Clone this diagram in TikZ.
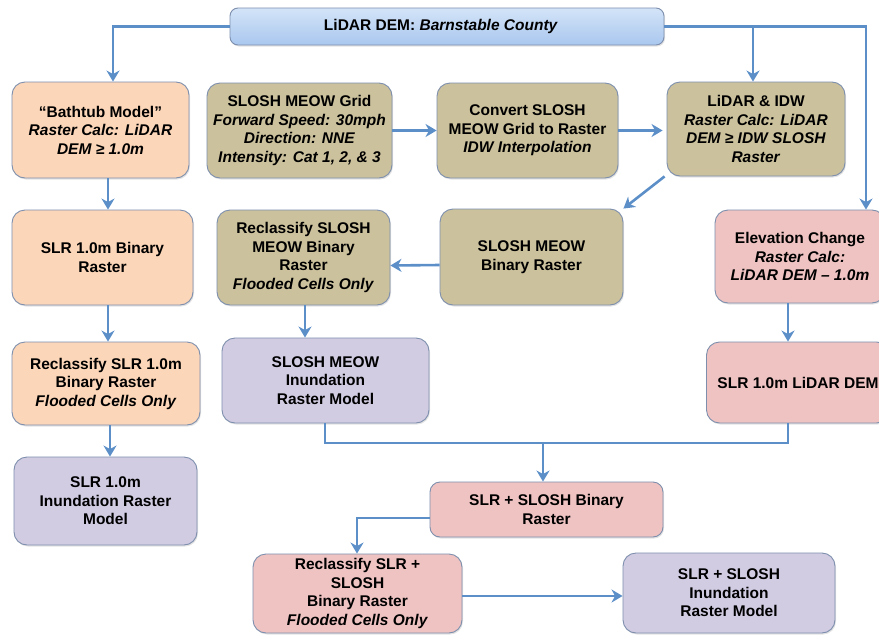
\documentclass[tikz,border=0pt]{standalone}
\usepackage{fontspec}
\setmainfont{Liberation Sans}
\usetikzlibrary{arrows.meta,shadows}

\definecolor{flowblue}{HTML}{5C8FC8}
\definecolor{edgegray}{HTML}{7D8FAD}
\definecolor{skytop}{HTML}{D3E4F8}
\definecolor{skybot}{HTML}{A9C7EE}
\definecolor{peach}{HTML}{FCD6B8}
\definecolor{khaki}{HTML}{CBC19C}
\definecolor{lilac}{HTML}{D2CCE3}
\definecolor{rose}{HTML}{EFC3C2}

\tikzset{
  box/.style={draw=edgegray, line width=0.9pt, rounded corners=13pt, align=center,
    inner sep=2pt, font=\fontsize{15.5}{18.5}\selectfont\bfseries,
    drop shadow={shadow xshift=1pt, shadow yshift=-1.5pt, opacity=0.22}},
  peachbox/.style={box, fill=peach},
  khakibox/.style={box, fill=khaki},
  lilacbox/.style={box, fill=lilac},
  rosebox/.style={box, fill=rose},
  headbox/.style={box, rounded corners=8pt, top color=skytop, bottom color=skybot},
  flow/.style={draw=flowblue, line width=2.6pt},
  arr/.style={flow, -{Stealth[length=11pt, width=13pt, inset=3.5pt]}},
}

\begin{document}
\begin{tikzpicture}[x=1pt, y=-1pt]
\useasboundingbox (0,0) rectangle (879,635);

% source data
\node[headbox, minimum width=434pt, minimum height=37pt] (dem) at (447,26.5)
  {LiDAR DEM: \textit{Barnstable County}\hspace*{12pt}};

% first row
\node[peachbox, minimum width=177pt, minimum height=96pt] (bath) at (100.5,130)
  {``Bathtub Model''\\\textit{Raster Calc: LiDAR}\\\textit{DEM ≥ 1.0m}};
\node[khakibox, minimum width=185pt, minimum height=95pt] (grid) at (299.5,130.5)
  {SLOSH MEOW Grid\\\textit{Forward Speed: 30mph}\\\textit{Direction: NNE}\\\textit{Intensity: Cat 1, 2, \& 3}};
\node[khakibox, minimum width=181pt, minimum height=95pt] (conv) at (527.5,130.5)
  {Convert SLOSH\\MEOW Grid to Raster\\\textit{IDW Interpolation}};
\node[khakibox, minimum width=178pt, minimum height=94pt] (idw) at (756,129)
  {LiDAR \& IDW\\\textit{Raster Calc: LiDAR}\\\textit{DEM ≥ IDW SLOSH}\\\textit{Raster}};

% second row
\node[peachbox, minimum width=181pt, minimum height=95pt] (slrbin) at (102.5,257.5)
  {SLR 1.0m Binary\\Raster};
\node[khakibox, minimum width=173pt, minimum height=95pt] (reslosh) at (303.5,257.5)
  {Reclassify SLOSH\\MEOW Binary\\Raster\\\textit{Flooded Cells Only}};
\node[khakibox, minimum width=183pt, minimum height=96pt] (sloshbin) at (531.5,257)
  {SLOSH MEOW\\Binary Raster};
\node[rosebox, minimum width=170pt, minimum height=93pt] (elev) at (800,256.5)
  {Elevation Change\\\textit{Raster Calc:}\\\textit{LiDAR DEM – 1.0m}};

% third row
\node[peachbox, minimum width=188pt, minimum height=83pt] (reslr) at (106,383.5)
  {Reclassify SLR 1.0m\\Binary Raster\\\textit{Flooded Cells Only}};
\node[lilacbox, minimum width=207pt, minimum height=85pt] (sloshinund) at (325.5,380.5)
  {SLOSH MEOW\\Inundation\\Raster Model};
\node[rosebox, minimum width=183pt, minimum height=81pt] (slrdem) at (798,382.5)
  {SLR 1.0m LiDAR DEM};

% lower part
\node[lilacbox, minimum width=183pt, minimum height=88pt] (slrinund) at (105.5,501)
  {SLR 1.0m\\Inundation Raster\\Model};
\node[rosebox, minimum width=233pt, minimum height=55pt, rounded corners=10pt] (combin) at (546.5,509.5)
  {SLR + SLOSH Binary\\Raster};
\node[rosebox, minimum width=209pt, minimum height=79pt] (recomb) at (357.5,593.5)
  {Reclassify SLR +\\SLOSH\\Binary Raster\\\textit{Flooded Cells Only}};
\node[lilacbox, minimum width=212pt, minimum height=80pt] (combinund) at (729,593)
  {SLR + SLOSH\\Inundation\\Raster Model};

% routing points
\coordinate (lturn) at (113,26.5);
\coordinate (rturn) at (866,26.5);
\coordinate (idwdrop) at (753,26.5);
\coordinate (merge) at (543,443);
\coordinate (leftcol) at (108,0);
\coordinate (slcol) at (305,0);
\coordinate (elcol) at (788,0);
\coordinate (incol) at (325,0);
\coordinate (bendb) at (357,518);

% connectors from the DEM
\draw[arr] (dem.west) -- (lturn) -- (lturn |- bath.north);
\draw[arr] (dem.east) -- (rturn) -- (rturn |- elev.north);
\draw[arr] (idwdrop) -- (idwdrop |- idw.north);

% bathtub branch
\draw[arr] (bath.south -| leftcol) -- (slrbin.north -| leftcol);
\draw[arr] (slrbin.south -| leftcol) -- (reslr.north -| leftcol);
\draw[arr] ([xshift=2pt]reslr.south -| leftcol) -- ([xshift=2pt]slrinund.north -| leftcol);

% SLOSH branch
\draw[arr] (grid.east) -- (conv.west);
\draw[arr] (conv.east) -- ([xshift=-4pt]idw.west |- conv.east);
\draw[arr] (idw.south west) ++(-2pt,0) -- (sloshbin.north east);
\draw[arr] ([yshift=-8pt]sloshbin.west) -- ([yshift=-8pt]reslosh.east);
\draw[arr] (reslosh.south -| slcol) -- (sloshinund.north -| slcol);

% elevation branch
\draw[arr] (elev.south -| elcol) -- (slrdem.north -| elcol);

% combination
\draw[flow] (sloshinund.south -| incol) -- (merge -| incol) -- (merge -| elcol) -- (slrdem.south -| elcol);
\draw[arr] (merge) -- (merge |- combin.north);
\draw[arr] (combin.west |- bendb) -- (bendb) -- (recomb.north -| bendb);
\draw[arr] ([yshift=-2.5pt]recomb.east) -- ([yshift=-2.5pt]recomb.east -| combinund.west);
\end{tikzpicture}
\end{document}
